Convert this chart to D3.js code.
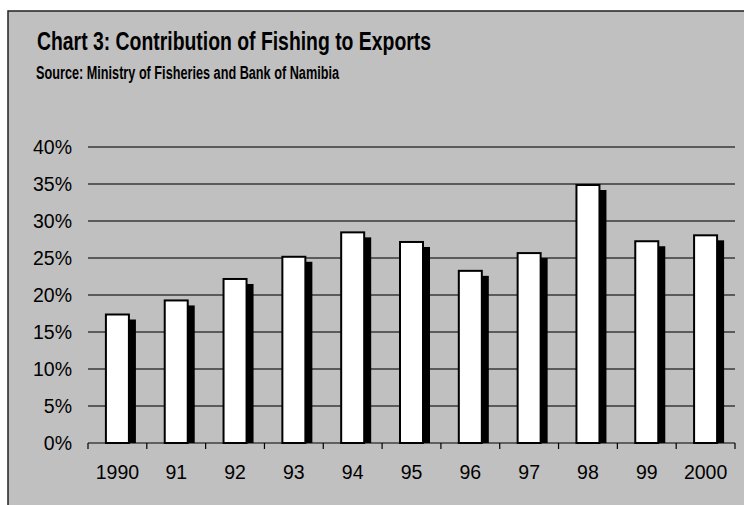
<!DOCTYPE html>
<html>
<head>
<meta charset="utf-8">
<script src="https://cdn.jsdelivr.net/npm/d3@7"></script>
<style>
  html, body { margin: 0; padding: 0; background: #fff; }
  svg { display: block; }
</style>
</head>
<body>
<script>
// Fishing share of Namibian exports, 1990-2000 (percent)
const years = ["1990", "91", "92", "93", "94", "95", "96", "97", "98", "99", "2000"];
const shares = [17.5, 19.4, 22.3, 25.3, 28.6, 27.3, 23.4, 25.8, 35.0, 27.4, 28.2];
const yTicks = [0, 5, 10, 15, 20, 25, 30, 35, 40];

const titleText = "Chart 3: Contribution of Fishing to Exports";
const subtitleText = "Source: Ministry of Fisheries and Bank of Namibia";

const W = 744, H = 505;
const plot = { left: 88, right: 735, top: 147, bottom: 443 };

const svg = d3.select("body").append("svg")
  .attr("width", W).attr("height", H);

// chart area frame (grey panel)
svg.append("rect")
  .attr("x", 8).attr("y", 11)
  .attr("width", W + 20).attr("height", H + 20)
  .attr("fill", "#c0c0c0")
  .attr("stroke", "#222").attr("stroke-width", 1.5);

// titles
svg.append("text")
  .attr("x", 37).attr("y", 50)
  .attr("font-family", "'Liberation Sans', Arial, sans-serif")
  .attr("font-weight", "bold").attr("font-size", 25)
  .attr("textLength", 394).attr("lengthAdjust", "spacingAndGlyphs")
  .attr("fill", "#000")
  .text(titleText);

svg.append("text")
  .attr("x", 36).attr("y", 79)
  .attr("font-family", "'Liberation Sans', Arial, sans-serif")
  .attr("font-weight", "bold").attr("font-size", 18)
  .attr("textLength", 303).attr("lengthAdjust", "spacingAndGlyphs")
  .attr("fill", "#000")
  .text(subtitleText);

const x = d3.scaleBand().domain(years).range([plot.left, plot.right]).padding(0);
const y = d3.scaleLinear().domain([0, 40]).range([plot.bottom, plot.top]);

// horizontal gridlines
svg.append("g")
  .selectAll("line")
  .data(yTicks.filter(d => d > 0))
  .join("line")
  .attr("x1", plot.left).attr("x2", plot.right)
  .attr("y1", d => y(d)).attr("y2", d => y(d))
  .attr("stroke", "#3a3a3a").attr("stroke-width", 1.3);

// y axis labels
const yAxis = d3.axisLeft(y).tickValues(yTicks).tickFormat(d => d + "%").tickSize(0).tickPadding(16);
const yg = svg.append("g").attr("transform", `translate(${plot.left},0)`).call(yAxis);
yg.select(".domain").remove();
yg.selectAll("text")
  .attr("font-family", "'Liberation Sans', Arial, sans-serif")
  .attr("font-size", 19.5).attr("fill", "#000");

const barW = 23;
const shadowOff = 6;

// bar shadows
svg.append("g")
  .selectAll("rect")
  .data(years)
  .join("rect")
  .attr("x", (d) => x(d) + x.bandwidth() / 2 - barW / 2 - 1 + shadowOff)
  .attr("y", (d, i) => y(shares[i]) + shadowOff)
  .attr("width", barW + 2)
  .attr("height", (d, i) => y(0) - y(shares[i]) - shadowOff)
  .attr("fill", "#000");

// bars
svg.append("g")
  .selectAll("rect")
  .data(years)
  .join("rect")
  .attr("x", (d) => x(d) + x.bandwidth() / 2 - barW / 2)
  .attr("y", (d, i) => y(shares[i]) + 1)
  .attr("width", barW)
  .attr("height", (d, i) => y(0) - y(shares[i]) - 1)
  .attr("fill", "#fff")
  .attr("stroke", "#000").attr("stroke-width", 2);

// x axis line with boundary ticks
svg.append("line")
  .attr("x1", plot.left).attr("x2", plot.right)
  .attr("y1", plot.bottom).attr("y2", plot.bottom)
  .attr("stroke", "#000").attr("stroke-width", 1.2);

const bounds = years.map(d => x(d)).concat([plot.right]);
svg.append("g")
  .selectAll("line")
  .data(bounds)
  .join("line")
  .attr("x1", d => d).attr("x2", d => d)
  .attr("y1", plot.bottom).attr("y2", plot.bottom + 6)
  .attr("stroke", "#000").attr("stroke-width", 1.2);

const xAxis = d3.axisBottom(x).tickSize(0).tickPadding(22);
const xg = svg.append("g").attr("transform", `translate(0,${plot.bottom})`).call(xAxis);
xg.select(".domain").remove();
xg.selectAll("text")
  .attr("font-family", "'Liberation Sans', Arial, sans-serif")
  .attr("font-size", 19.5).attr("fill", "#000");
</script>
</body>
</html>
